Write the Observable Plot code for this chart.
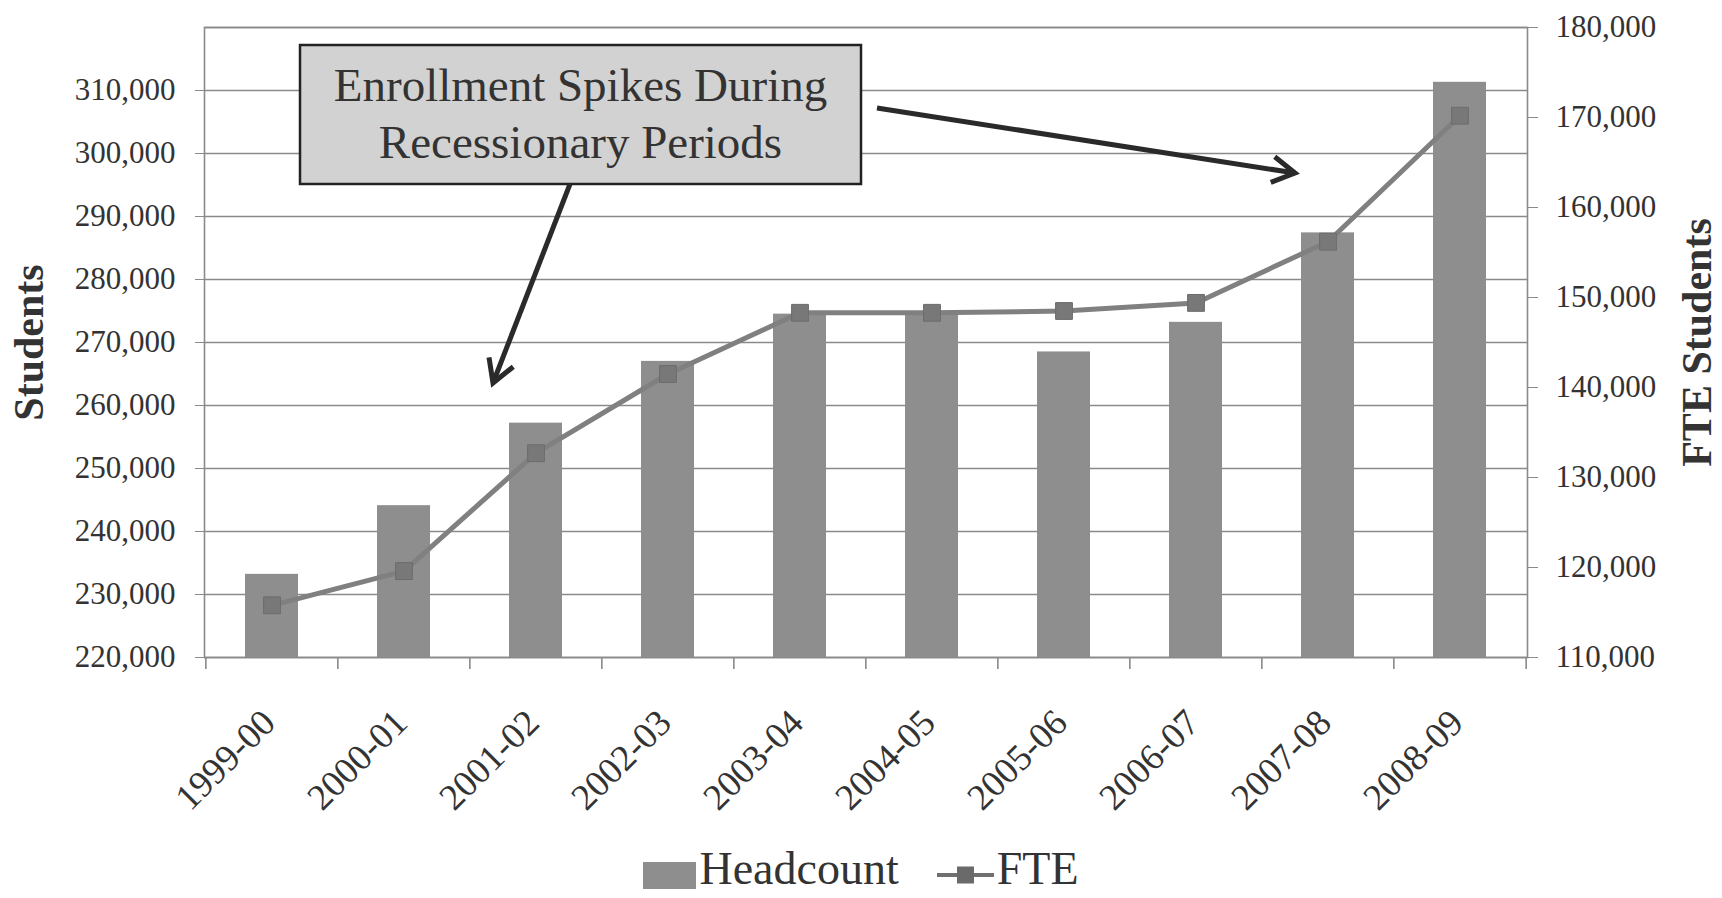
<!DOCTYPE html>
<html><head><meta charset="utf-8">
<script src="https://cdn.jsdelivr.net/npm/d3@7"></script>
<script src="https://cdn.jsdelivr.net/npm/@observablehq/plot@0.6"></script>
<style>
body{margin:0;background:#fff;font-family:"Liberation Serif","Times New Roman",serif;}
#chart{position:relative;width:1722px;height:898px;overflow:hidden;}
#legend{position:absolute;left:0;top:846px;width:1722px;height:46px;display:flex;justify-content:center;align-items:center;font-size:46px;line-height:46px;color:#333;}
#legend .sw{width:53px;height:27px;background:#8e8e8e;margin-right:3px;margin-top:12px;}
#legend .ln{margin-left:38px;margin-right:3px;margin-top:12px;}
</style></head><body>
<div id="chart"></div>
<script>
// ---- data ----
const years = ["1999-00","2000-01","2001-02","2002-03","2003-04","2004-05","2005-06","2006-07","2007-08","2008-09"];
const headcount = [233200, 244100, 257200, 267000, 274500, 274400, 268500, 273200, 287400, 311300];
const fte = [115800, 119600, 132700, 141500, 148300, 148300, 148500, 149400, 156200, 170200];
const leftTicks = [220000, 230000, 240000, 250000, 260000, 270000, 280000, 290000, 300000, 310000];
const gridValues = [220000, 230000, 240000, 250000, 260000, 270000, 280000, 290000, 300000, 310000, 320000];
const rightTicks = [110000, 120000, 130000, 140000, 150000, 160000, 170000, 180000];
const leftDomain = [220000, 320000];
const rightDomain = [110000, 180000];
const seriesNames = ["Headcount", "FTE"];
const annotationLines = ["Enrollment Spikes During", "Recessionary Periods"];

// ---- helpers ----
const k = (leftDomain[1] - leftDomain[0]) / (rightDomain[1] - rightDomain[0]);
const toLeft = v => leftDomain[0] + (v - rightDomain[0]) * k;
const fromLeft = v => rightDomain[0] + (v - leftDomain[0]) / k;
const fmt = d3.format(",");
const data = years.map((y, i) => ({year: y, headcount: headcount[i], fte: fte[i]}));

const W = 1722, H = 846, mL = 204, mR = 195, mT = 27, mB = H - 657;
const step = (W - mL - mR) / years.length;
const axisColor = "#8a8a8a";
const textColor = "#333";

const plot = Plot.plot({
  width: W, height: H,
  marginLeft: mL, marginRight: mR, marginTop: mT, marginBottom: mB,
  style: {fontFamily: "Liberation Serif, Times New Roman, serif", fontSize: "31px", color: textColor, background: "#fff", overflow: "visible"},
  x: {domain: years, paddingInner: 0.6, paddingOuter: 0.3, axis: null},
  y: {domain: leftDomain, axis: null},
  marks: [
    Plot.ruleY(gridValues, {stroke: axisColor, strokeWidth: 1.6}),
    Plot.frame({stroke: axisColor, strokeWidth: 1.6}),
    Plot.barY(data, {x: "year", y1: leftDomain[0], y2: "headcount", fill: "#8e8e8e"}),
    Plot.line(data, {x: "year", y: d => toLeft(d.fte), stroke: "#808080", strokeWidth: 5}),
    Plot.dot(data, {x: "year", y: d => toLeft(d.fte), symbol: "square", r: 9.5, fill: "#787878", stroke: "#6c6c6c", strokeWidth: 1}),
    // category boundary ticks
    Plot.ruleX(years, {x: d => d, y1: leftDomain[0], y2: leftDomain[0], insetBottom: -12, dx: -step / 2, stroke: axisColor, strokeWidth: 1.6}),
    Plot.ruleX([years[years.length - 1]], {x: d => d, y1: leftDomain[0], y2: leftDomain[0], insetBottom: -12, dx: step / 2, stroke: axisColor, strokeWidth: 1.6}),
    Plot.axisY(leftTicks, {anchor: "left", tickSize: 9, tickPadding: 20, tickFormat: fmt, fontSize: 31, stroke: axisColor, fill: textColor, label: null}),
    Plot.axisY(rightTicks.map(toLeft), {anchor: "right", tickSize: 10, tickPadding: 18, tickFormat: d => fmt(Math.round(fromLeft(d))), fontSize: 31, stroke: axisColor, fill: textColor, label: null}),
    Plot.text(years, {x: d => d, y: leftDomain[0], text: d => d, rotate: -45, textAnchor: "end", lineAnchor: "middle", dx: -3, dy: 59, fontSize: 37, fill: textColor}),
    Plot.text(["Students"], {frameAnchor: "left", textAnchor: "middle", lineAnchor: "middle", dx: -175, rotate: -90, fontSize: 42, fontWeight: "bold", fill: textColor}),
    Plot.text(["FTE Students"], {frameAnchor: "right", textAnchor: "middle", lineAnchor: "middle", dx: 170, rotate: -90, fontSize: 42, fontWeight: "bold", fill: textColor})
  ]
});
document.getElementById("chart").appendChild(plot);

// ---- annotation (callout box with arrows) ----
const svg = d3.select(plot);
const g = svg.append("g");
const box = {x0: 300, x1: 861, y0: 45, y1: 184};
g.append("rect").attr("x", box.x0).attr("y", box.y0).attr("width", box.x1 - box.x0).attr("height", box.y1 - box.y0)
  .attr("fill", "#d2d2d2").attr("stroke", "#222").attr("stroke-width", 2.5);
annotationLines.forEach((t, i) => {
  g.append("text").attr("x", (box.x0 + box.x1) / 2).attr("y", 101 + i * 57)
    .attr("text-anchor", "middle").attr("font-size", 47).attr("fill", textColor)
    .attr("font-family", "Liberation Serif, Times New Roman, serif").text(t);
});
function arrow(x1, y1, x2, y2) {
  g.append("line").attr("x1", x1).attr("y1", y1).attr("x2", x2).attr("y2", y2)
    .attr("stroke", "#2a2a2a").attr("stroke-width", 5);
  const a = Math.atan2(y2 - y1, x2 - x1), L = 26, s = Math.PI / 6;
  const p = [[x2 - L * Math.cos(a - s), y2 - L * Math.sin(a - s)], [x2, y2], [x2 - L * Math.cos(a + s), y2 - L * Math.sin(a + s)]];
  g.append("path").attr("d", d3.line()(p)).attr("fill", "none").attr("stroke", "#2a2a2a")
    .attr("stroke-width", 5).attr("stroke-linejoin", "miter");
}
arrow(570, box.y1, 493, 383);
arrow(877, 108, 1295, 173);

// ---- legend ----
const legend = document.createElement("div");
legend.id = "legend";
legend.innerHTML = `<div class="sw"></div><span>${seriesNames[0]}</span>
<svg class="ln" width="57" height="24"><line x1="0" y1="12" x2="57" y2="12" stroke="#707070" stroke-width="4"/><rect x="20" y="3.5" width="17" height="17" fill="#6a6a6a"/></svg><span>${seriesNames[1]}</span>`;
document.getElementById("chart").appendChild(legend);
</script>
</body></html>
